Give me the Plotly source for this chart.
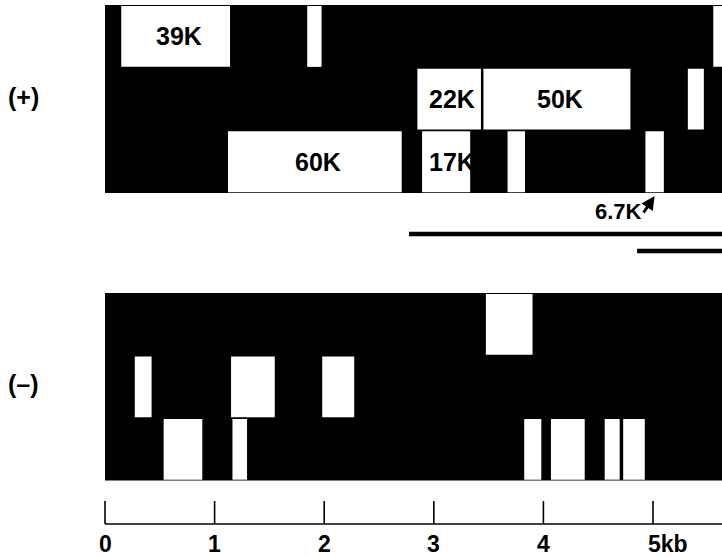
import plotly.graph_objects as go

# ---------------- data (kb) ----------------
plus_frame = [1, 1, 1, 2, 2, 2, 3, 3, 3, 3]
plus_start = [0.148, 1.845, 5.550, 2.850, 3.453, 5.318, 1.122, 2.893, 3.673, 4.931]
plus_end = [1.141, 1.976, 5.700, 3.430, 4.794, 5.464, 2.707, 3.332, 3.832, 5.099]
plus_label = ["39K", "", "", "22K", "50K", "", "60K", "17K", "", ""]

minus_frame = [1, 2, 2, 2, 3, 3, 3, 3, 3, 3]
minus_start = [3.475, 0.272, 1.150, 1.982, 0.535, 1.163, 3.825, 4.069, 4.559, 4.728]
minus_end = [3.901, 0.425, 1.549, 2.274, 0.888, 1.296, 3.981, 4.377, 4.696, 4.925]

arrow_orf_label = "6.7K"
arrow_orf_index = 9  # plus-strand ORF pointed to by the arrow

transcript_start = [2.774, 4.855]
transcript_end = [5.700, 5.700]

map_start = 0.0
map_end = 5.700

scale_ticks = [0, 1, 2, 3, 4, 5]
scale_labels = ["0", "1", "2", "3", "4", "5kb"]
strand_labels = ["(+)", "(\u2013)"]

# ---------------- layout geometry (pixel-like y units) ----------------
W, H = 722, 557
PX0, PXKB = 105.0, 109.6
PLUS_TOP, PLUS_BOT = 5.0, 193.0
MINUS_TOP, MINUS_BOT = 293.0, 480.5
TRANSCRIPT_Y = [234.0, 251.0]
SCALE_Y, TICK_TOP = 524.0, 501.0
LABEL_Y = 544.0
FONT = "Liberation Sans, Arial, sans-serif"

fig = go.Figure()
shapes = []
annotations = []


def row_bounds(top, bot, frame):
    h = (bot - top) / 3.0
    return top + (frame - 1) * h + 1.0, top + frame * h - 0.8


# black panels
for top, bot in [(PLUS_TOP, PLUS_BOT), (MINUS_TOP, MINUS_BOT)]:
    shapes.append(dict(type="rect", xref="x", yref="y", x0=map_start, x1=map_end,
                       y0=top, y1=bot, fillcolor="black", line=dict(width=0)))

# plus strand ORFs
for f, s, e, lab in zip(plus_frame, plus_start, plus_end, plus_label):
    y0, y1 = row_bounds(PLUS_TOP, PLUS_BOT, f)
    shapes.append(dict(type="rect", xref="x", yref="y", x0=s, x1=e, y0=y0, y1=y1,
                       fillcolor="white", line=dict(width=0)))
    if lab:
        shift = 6 if lab == "17K" else 3
        annotations.append(dict(x=(s + e) / 2, y=(y0 + y1) / 2, xref="x", yref="y",
                                text="<b>%s</b>" % lab, showarrow=False, xshift=shift,
                                font=dict(family=FONT, size=25, color="black"),
                                xanchor="center", yanchor="middle"))

# minus strand ORFs
for f, s, e in zip(minus_frame, minus_start, minus_end):
    y0, y1 = row_bounds(MINUS_TOP, MINUS_BOT, f)
    shapes.append(dict(type="rect", xref="x", yref="y", x0=s, x1=e, y0=y0, y1=y1,
                       fillcolor="white", line=dict(width=0)))

# arrow + label for the small ORF
ai = arrow_orf_index
orf_mid = (plus_start[ai] + plus_end[ai]) / 2
annotations.append(dict(x=orf_mid, y=PLUS_BOT + 3.0, xref="x", yref="y", text="",
                        showarrow=True, arrowhead=2, arrowsize=0.9, arrowwidth=3,
                        arrowcolor="black", ax=-12, ay=18, standoff=0))
annotations.append(dict(x=orf_mid, y=211.0, xref="x", yref="y",
                        text="<b>%s</b>" % arrow_orf_label, showarrow=False,
                        xanchor="right", yanchor="middle", xshift=-11,
                        font=dict(family=FONT, size=22, color="black")))

# transcripts
for s, e, y in zip(transcript_start, transcript_end, TRANSCRIPT_Y):
    shapes.append(dict(type="line", xref="x", yref="y", x0=s, x1=e, y0=y, y1=y,
                       line=dict(color="black", width=4.5)))

# scale bar
shapes.append(dict(type="line", xref="x", yref="y", x0=scale_ticks[0], x1=map_end,
                   y0=SCALE_Y, y1=SCALE_Y, line=dict(color="black", width=1.6)))
for t, lab in zip(scale_ticks, scale_labels):
    shapes.append(dict(type="line", xref="x", yref="y", x0=t, x1=t,
                       y0=TICK_TOP, y1=SCALE_Y, line=dict(color="black", width=1.6)))
    if lab.endswith("kb"):
        annotations.append(dict(x=t, y=LABEL_Y, xref="x", yref="y", text="<b>%s</b>" % lab,
                                showarrow=False, xanchor="left", xshift=-7,
                                font=dict(family=FONT, size=23, color="black")))
    else:
        annotations.append(dict(x=t, y=LABEL_Y, xref="x", yref="y", text="<b>%s</b>" % lab,
                                showarrow=False, xanchor="center",
                                font=dict(family=FONT, size=23, color="black")))

# strand labels
for lab, yc in zip(strand_labels, [97.0, 384.0]):
    annotations.append(dict(x=23.0 / W, y=yc, xref="paper", yref="y", text="<b>%s</b>" % lab,
                            showarrow=False, xanchor="center", yanchor="middle",
                            font=dict(family=FONT, size=25, color="black")))

fig.add_trace(go.Scatter(x=[map_start], y=[PLUS_TOP], mode="markers",
                         marker=dict(opacity=0), hoverinfo="skip", showlegend=False))

fig.update_layout(
    width=W, height=H,
    margin=dict(l=0, r=0, t=0, b=0),
    paper_bgcolor="white", plot_bgcolor="white",
    shapes=shapes, annotations=annotations,
    xaxis=dict(range=[-PX0 / PXKB, (W - PX0) / PXKB], visible=False, fixedrange=True),
    yaxis=dict(range=[H, 0], visible=False, fixedrange=True),
    showlegend=False,
)

fig.write_html(
    "out.html",
    config={"displayModeBar": False},
    post_script="document.body.style.margin='0px';document.body.style.overflow='hidden';",
)
